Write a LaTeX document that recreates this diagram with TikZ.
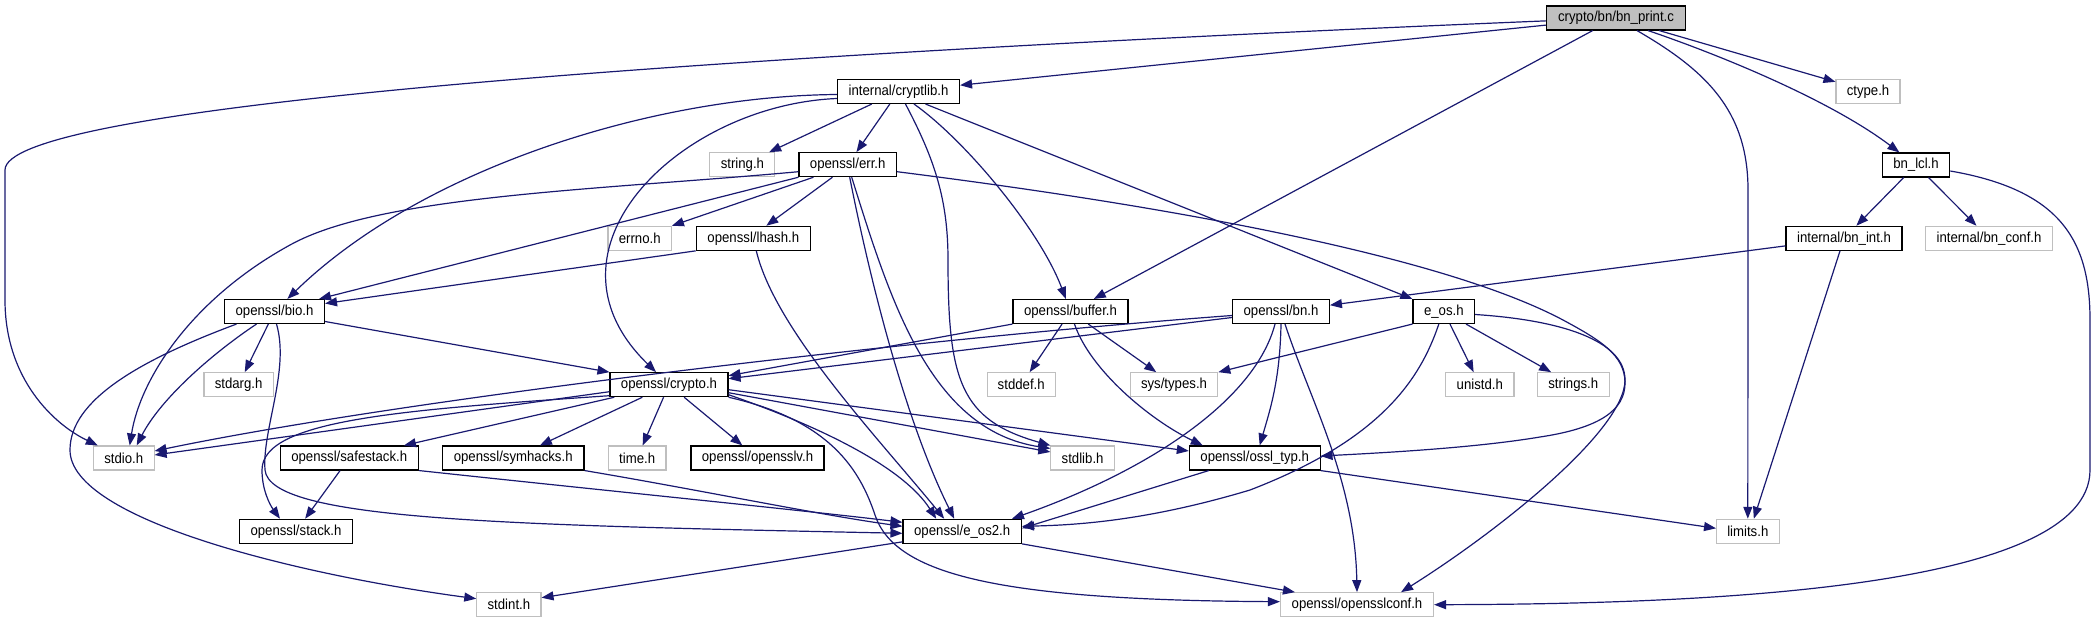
\documentclass[tikz,border=0pt]{standalone}
\usepackage{fontspec}
\setmainfont{Liberation Sans}[FakeStretch=0.91]
\usetikzlibrary{arrows.meta,calc}
\definecolor{edgeblue}{HTML}{191970}
\definecolor{sysgray}{HTML}{BFBFBF}
\tikzset{
  box/.style={draw=black, line width=1.1pt, fill=white, minimum height=24pt, inner sep=0pt,
              font=\fontsize{14.5pt}{16pt}\selectfont},
  sys/.style={box, draw=sysgray},
  root/.style={box, fill=sysgray},
  e/.style={draw=edgeblue, line width=1.2pt, -{Triangle[length=12pt,width=9pt]}}
}
\begin{document}
\begin{tikzpicture}[x=1pt,y=-1pt]
\useasboundingbox (0,0) rectangle (2096,623);
% nodes
\node[root, minimum width=139pt] (bnprint) at (1616,18) {crypto/bn/bn\_print.c};
\node[sys, minimum width=64pt] (ctype) at (1868,91.3) {ctype.h};
\node[box, minimum width=67.5pt] (bnlcl) at (1916,165) {bn\_lcl.h};
\node[box, minimum width=116pt] (bnint) at (1844,238.3) {internal/bn\_int.h};
\node[sys, minimum width=127.6pt] (bnconf) at (1989,238.3) {internal/bn\_conf.h};
\node[box, minimum width=122pt] (cryptlib) at (898.5,91.5) {internal/cryptlib.h};
\node[sys, minimum width=65pt] (stringh) at (742.4,164.7) {string.h};
\node[box, minimum width=97.4pt] (err) at (847.7,164.7) {openssl/err.h};
\node[sys, minimum width=63.4pt] (errno) at (639.7,238.3) {errno.h};
\node[box, minimum width=114pt] (lhash) at (753.3,238.3) {openssl/lhash.h};
\node[box, minimum width=100pt] (bio) at (274.5,311.5) {openssl/bio.h};
\node[box, minimum width=115pt] (buffer) at (1070.5,311.5) {openssl/buffer.h};
\node[box, minimum width=96.8pt] (bn) at (1281,311.5) {openssl/bn.h};
\node[box, minimum width=61.6pt] (eos) at (1443.8,311.5) {e\_os.h};
\node[sys, minimum width=69.2pt] (stdarg) at (238.6,384.7) {stdarg.h};
\node[box, minimum width=118pt] (crypto) at (669,384.7) {openssl/crypto.h};
\node[sys, minimum width=68.3pt] (stddef) at (1021.2,384.7) {stddef.h};
\node[sys, minimum width=87.5pt] (systypes) at (1174,384.7) {sys/types.h};
\node[sys, minimum width=68.3pt] (unistd) at (1479.8,384.7) {unistd.h};
\node[sys, minimum width=71.5pt] (strings) at (1573.3,384.7) {strings.h};
\node[sys, minimum width=60.7pt] (stdio) at (123.7,458) {stdio.h};
\node[box, minimum width=138.3pt] (safestack) at (349.2,458) {openssl/safestack.h};
\node[box, minimum width=141.6pt] (symhacks) at (513.2,458) {openssl/symhacks.h};
\node[sys, minimum width=57.6pt] (timeh) at (637.2,458) {time.h};
\node[box, minimum width=133pt] (opensslv) at (757.5,458) {openssl/opensslv.h};
\node[sys, minimum width=63.4pt] (stdlib) at (1082.6,458) {stdlib.h};
\node[box, minimum width=130.7pt] (ossltyp) at (1254.7,458) {openssl/ossl\_typ.h};
\node[box, minimum width=113.4pt] (stack) at (296,531.3) {openssl/stack.h};
\node[box, minimum width=118.4pt] (eos2) at (962.2,531.3) {openssl/e\_os2.h};
\node[sys, minimum width=62.5pt] (limits) at (1747.8,531.3) {limits.h};
\node[sys, minimum width=64.2pt] (stdint) at (508.9,604.7) {stdint.h};
\node[sys, minimum width=153pt] (opensslconf) at (1357,604.7) {openssl/opensslconf.h};
% bn_print.c
\draw[e] (bnprint) .. controls (600,60) and (5,110) .. (5,170) -- (5,300) .. controls (5,380) and (55,425) .. ($(stdio.north west)+(5,0)$);
\draw[e] (bnprint) -- (cryptlib);
\draw[e] (bnprint) -- (buffer);
\draw[e] ($(bnprint.south)+(21,0)$) .. controls (1705,70) and (1748,110) .. (1748,190) -- (limits);
\draw[e] (bnprint) -- (ctype);
\draw[e] ($(bnprint.south)+(32,0)$) .. controls (1720,55) and (1830,100) .. (bnlcl);
% bn_lcl.h
\draw[e] (bnlcl) -- (bnint);
\draw[e] (bnlcl) -- (bnconf);
\draw[e] ($(bnlcl.east)+(0,6)$) .. controls (2060,190) and (2090,240) .. (2090,320) -- (2090,470) .. controls (2090,590) and (1700,604) .. (opensslconf.east);
% bn_int.h
\draw[e] (bnint) -- (bn);
\draw[e] ($(bnint.south)+(-4,0)$) -- ($(limits.north)+(6,0)$);
% cryptlib.h
\draw[e] (cryptlib) -- (stringh);
\draw[e] (cryptlib) -- (err);
\draw[e] ($(cryptlib.west)+(0,3)$) .. controls (650,96) and (420,170) .. (bio);
\draw[e] ($(cryptlib.west)+(0,7)$) .. controls (680,105) and (530,250) .. (crypto);
\draw[e] ($(cryptlib.south)+(7,0)$) .. controls (935,160) and (948,200) .. (948,260) .. controls (948,380) and (960,420) .. (stdlib.north west);
\draw[e] ($(cryptlib.south)+(15.5,0)$) .. controls (965,140) and (1040,230) .. (buffer);
\draw[e] ($(cryptlib.south)+(27,0)$) -- (eos);
% err.h
\draw[e] ($(err.west)+(0,7)$) .. controls (600,190) and (380,195) .. (290,245) .. controls (190,300) and (140,380) .. ($(stdio.north)+(6,0)$);
\draw[e] (err.south west) -- ($(bio.north east)+(-6,0)$);
\draw[e] ($(err.south west)+(15,0)$) -- (errno.north east);
\draw[e] ($(err.south west)+(34,0)$) -- ($(lhash.north)+(13,0)$);
\draw[e] ($(err.south)+(2,0)$) .. controls (870,280) and (905,420) .. ($(eos2.north)+(-8,0)$);
\draw[e] ($(err.south)+(4,0)$) .. controls (890,300) and (930,430) .. ($(stdlib.north west)+(0,3)$);
\draw[e] ($(err.east)+(0,7)$) .. controls (1200,210) and (1450,260) .. (1563,320) .. controls (1600,340) and (1625,355) .. (1625,383) .. controls (1625,410) and (1600,428) .. (1540,437) .. controls (1480,447) and (1400,452) .. ($(ossltyp.east)+(0,-2)$);
% lhash.h
\draw[e] (lhash.south west) -- ($(bio.east)+(0,-8)$);
\draw[e] ($(lhash.south)+(3,0)$) .. controls (775,330) and (880,440) .. ($(eos2.north)+(-18,0)$);
% e_os.h
\draw[e] ($(eos.east)+(0,3)$) .. controls (1560,320) and (1625,340) .. (1625,380) .. controls (1625,430) and (1500,530) .. ($(opensslconf.north east)+(-33,0)$);
\draw[e] ($(eos.south)+(-5,0)$) .. controls (1420,380) and (1380,440) .. (1250,490) .. controls (1150,520) and (1080,525) .. ($(eos2.east)+(0,-5)$);
\draw[e] (eos.south west) -- (systypes.north east);
\draw[e] (eos) -- (unistd);
\draw[e] (eos) -- (strings);
% buffer.h
\draw[e] (buffer.south west) -- ($(crypto.east)+(0,-9)$);
\draw[e] (buffer) -- (stddef);
\draw[e] (buffer) -- (systypes);
\draw[e] ($(buffer.south)+(4,0)$) .. controls (1090,370) and (1150,420) .. ($(ossltyp.north west)+(14,0)$);
% bn.h
\draw[e] ($(bn.west)+(0,6)$) -- ($(crypto.east)+(0,-6)$);
\draw[e] ($(bn.west)+(0,4)$) .. controls (900,340) and (400,400) .. ($(stdio.east)+(0,-7)$);
\draw[e] (bn.south) .. controls (1280,380) and (1270,410) .. ($(ossltyp.north)+(5,0)$);
\draw[e] ($(bn.south)+(-6,0)$) .. controls (1255,400) and (1150,470) .. ($(eos2.north east)+(-10,0)$);
\draw[e] ($(bn.south)+(4,0)$) .. controls (1310,400) and (1355,480) .. (opensslconf.north);
% crypto.h
\draw[e] ($(crypto.west)+(0,7)$) -- ($(stdio.east)+(0,-3)$);
\draw[e] ($(crypto.west)+(0,11)$) .. controls (400,410) and (262,420) .. (262,470) .. controls (262,490) and (270,505) .. ($(stack.north)+(-16,0)$);
\draw[e] (crypto) -- (safestack);
\draw[e] (crypto) -- (symhacks);
\draw[e] (crypto) -- (timeh);
\draw[e] (crypto) -- (opensslv);
\draw[e] ($(crypto.east)+(0,8)$) -- ($(stdlib.west)+(0,-6)$);
\draw[e] ($(crypto.east)+(0,5)$) -- ($(ossltyp.west)+(0,-7)$);
\draw[e] ($(crypto.east)+(0,10)$) .. controls (830,430) and (905,470) .. ($(eos2.north)+(-26,0)$);
\draw[e] (crypto.south east) .. controls (830,420) and (860,470) .. (875,515) .. controls (895,575) and (1000,600) .. ($(opensslconf.west)+(0,-3)$);
% bio.h
\draw[e] ($(bio.east)+(0,10)$) -- (crypto.north west);
\draw[e] (bio) -- (stdarg);
\draw[e] ($(bio.south)+(-18,0)$) .. controls (210,355) and (160,400) .. ($(stdio.north)+(13,0)$);
\draw[e] ($(bio.south)+(-38,0)$) .. controls (140,360) and (70,400) .. (70,450) .. controls (70,520) and (300,575) .. ($(stdint.west)+(0,-6)$);
\draw[e] ($(bio.south)+(2,0)$) .. controls (290,370) and (262,430) .. (265,470) .. controls (270,520) and (500,525) .. ($(eos2.west)+(0,2)$);
% safestack.h, symhacks.h
\draw[e] (safestack) -- (stack);
\draw[e] (safestack.south east) .. controls (600,490) and (800,510) .. ($(eos2.west)+(0,-9)$);
\draw[e] (symhacks.south east) .. controls (700,490) and (820,515) .. ($(eos2.west)+(0,-5)$);
% ossl_typ.h
\draw[e] ($(ossltyp.south west)+(20,0)$) -- ($(eos2.east)+(0,-3)$);
\draw[e] (ossltyp.south east) -- ($(limits.west)+(0,-3)$);
% e_os2.h
\draw[e] ($(eos2.south west)+(0,-2)$) -- ($(stdint.east)+(0,-7)$);
\draw[e] (eos2.south east) -- ($(opensslconf.north west)+(15,0)$);
\end{tikzpicture}
\end{document}
